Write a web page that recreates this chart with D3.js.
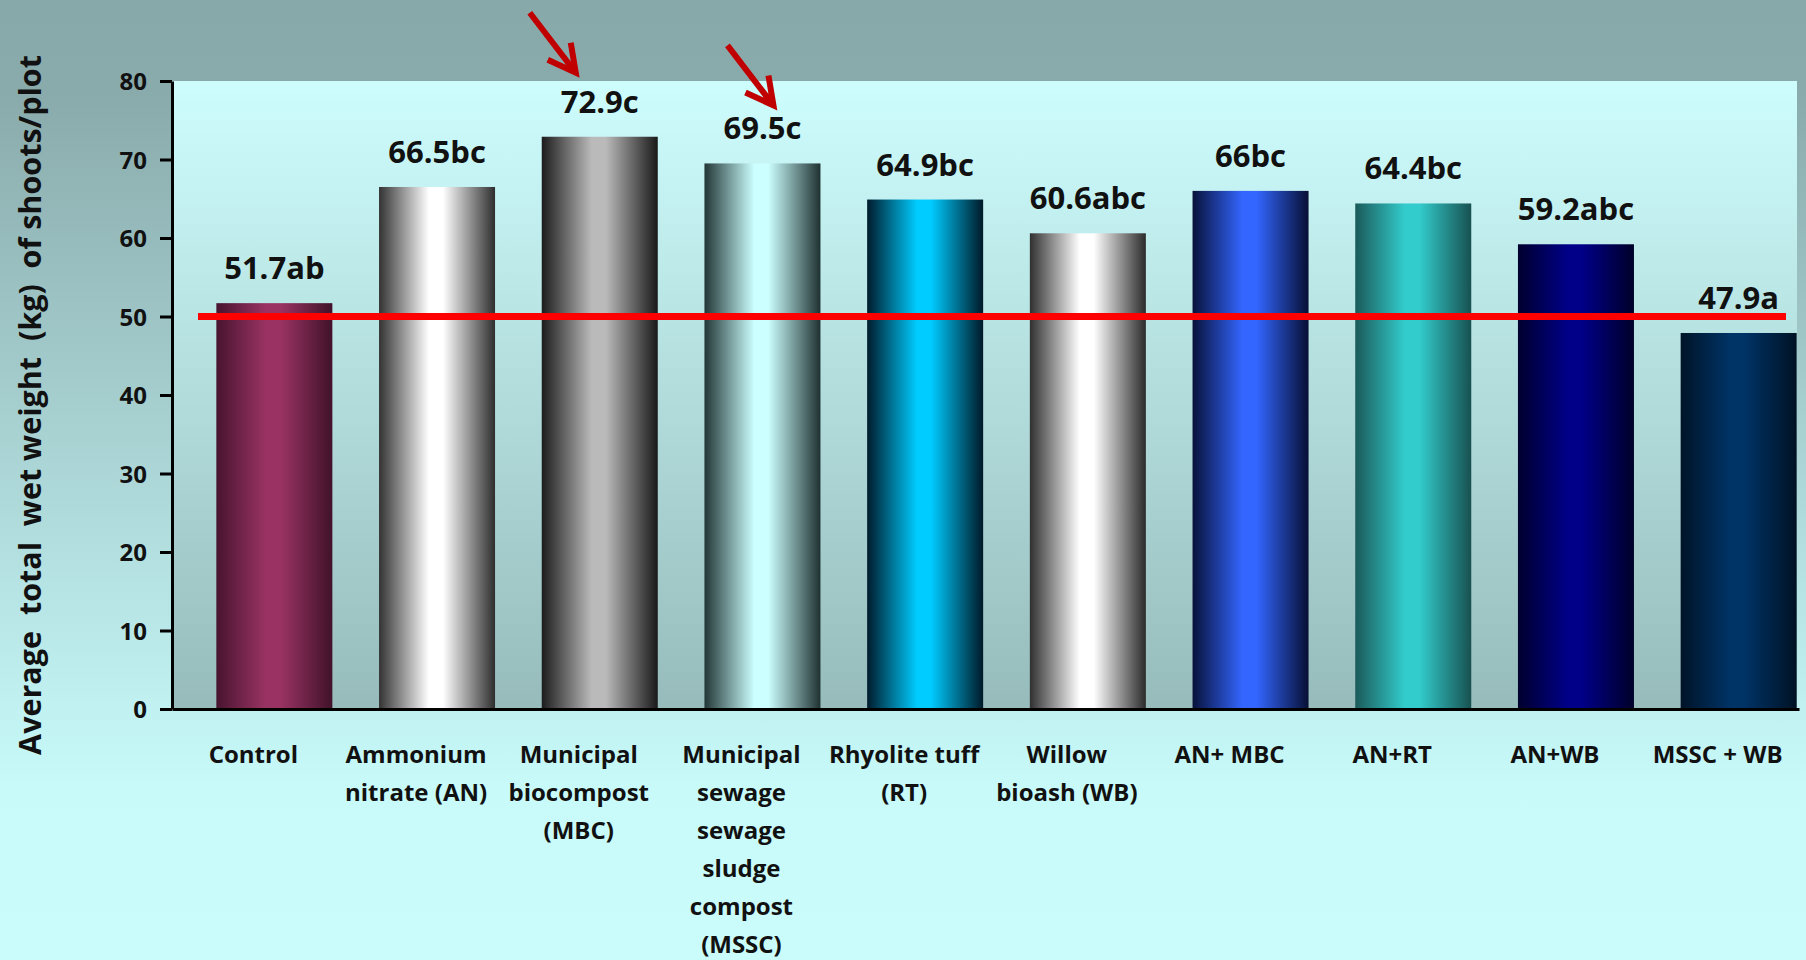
<!DOCTYPE html>
<html lang="en">
<head>
    <meta charset="UTF-8">
    <title>Average total wet weight of shoots per plot</title>
    <script src="https://d3js.org/d3.v7.min.js"></script>
    <style>
        body {
            margin: 0;
            padding: 0;
            overflow: hidden;
            font-family: 'Open Sans', sans-serif;
        }
        .axis path,
        .axis line {
            stroke: #000;
            stroke-width: 3px;
        }
        .axis text {
            font-family: 'Open Sans', sans-serif;
            font-weight: 700;
            font-size: 24px;
            fill: #111;
        }
        .cat-label {
            font-weight: 700;
            font-size: 24px;
            fill: #111;
        }
        .value-label {
            font-weight: 700;
            font-size: 31px;
            fill: #111;
        }
        .y-title {
            font-weight: 700;
            font-size: 30.5px;
            fill: #111;
            white-space: pre;
        }
    </style>
</head>
<body>
    <div id="chart"></div>
    <script>
        // treatments (line breaks as in the original axis labels)
        const categories = [
            "Control",
            "Ammonium\nnitrate (AN)",
            "Municipal\nbiocompost\n(MBC)",
            "Municipal\nsewage\nsewage\nsludge\ncompost\n(MSSC)",
            "Rhyolite tuff\n(RT)",
            "Willow\nbioash (WB)",
            "AN+ MBC",
            "AN+RT",
            "AN+WB",
            "MSSC + WB"
        ];
        const values = [51.7, 66.5, 72.9, 69.5, 64.9, 60.6, 66, 64.4, 59.2, 47.9];
        const letters = ["ab", "bc", "c", "c", "bc", "abc", "bc", "bc", "abc", "a"];
        const yTicks = [0, 10, 20, 30, 40, 50, 60, 70, 80];
        const refValue = 50;
        // bars pointed out by the red arrows
        const highlighted = ["Municipal\nbiocompost\n(MBC)", "Municipal\nsewage\nsewage\nsludge\ncompost\n(MSSC)"];

        // bar shading: edge colour -> centre colour -> edge colour
        const edgeColors = ["#48142f", "#333333", "#1c1c1c", "#223636", "#001c2c", "#303030", "#08113a", "#1b5a5a", "#00002e", "#001428"];
        const centerColors = ["#9a3363", "#ffffff", "#bababa", "#ccffff", "#00ccff", "#ffffff", "#3366ff", "#33cccc", "#000088", "#003366"];

        const data = categories.map((c, i) => ({ cat: c, value: values[i], letter: letters[i], i }));

        const W = 1806, H = 960;
        const mLeft = 172, mRight = 1799, mTop = 81, mBottom = 709;
        const barShift = 21;

        const svg = d3.select("#chart").append("svg")
            .attr("width", W)
            .attr("height", H);

        const defs = svg.append("defs");

        const bg = defs.append("linearGradient").attr("id", "bg")
            .attr("x1", 0).attr("y1", 0).attr("x2", 0).attr("y2", 1);
        bg.append("stop").attr("offset", "0").attr("stop-color", "#88a9aa");
        bg.append("stop").attr("offset", "0.1").attr("stop-color", "#8aabac");
        bg.append("stop").attr("offset", "0.82").attr("stop-color", "#c8fafa");
        bg.append("stop").attr("offset", "1").attr("stop-color", "#cafcfc");

        const plotBg = defs.append("linearGradient").attr("id", "plotBg")
            .attr("x1", 0).attr("y1", 0).attr("x2", 0).attr("y2", 1);
        plotBg.append("stop").attr("offset", "0").attr("stop-color", "#cefdfd");
        plotBg.append("stop").attr("offset", "1").attr("stop-color", "#97bbbb");

        data.forEach(d => {
            const g = defs.append("linearGradient").attr("id", "bar" + d.i)
                .attr("x1", 0).attr("y1", 0).attr("x2", 1).attr("y2", 0);
            const edge = edgeColors[d.i], mid = centerColors[d.i];
            g.append("stop").attr("offset", "0").attr("stop-color", edge);
            g.append("stop").attr("offset", "0.43").attr("stop-color", mid);
            g.append("stop").attr("offset", "0.55").attr("stop-color", mid);
            g.append("stop").attr("offset", "1").attr("stop-color", d3.color(edge).darker(0.3));
        });

        svg.append("rect")
            .attr("width", W).attr("height", H)
            .attr("fill", "url(#bg)");

        const x = d3.scaleBand()
            .domain(categories)
            .range([mLeft, mRight])
            .paddingInner(0.287)
            .paddingOuter(0.1435);

        const y = d3.scaleLinear()
            .domain([0, 80])
            .range([mBottom, mTop]);

        // plot area
        svg.append("rect")
            .attr("x", mLeft)
            .attr("y", y(80))
            .attr("width", 1797 - mLeft)
            .attr("height", y(0) - y(80))
            .attr("fill", "url(#plotBg)");

        // bars
        svg.selectAll(".bar")
            .data(data)
            .enter()
            .append("rect")
            .attr("class", "bar")
            .attr("x", d => x(d.cat) + barShift)
            .attr("y", d => y(d.value))
            .attr("width", x.bandwidth())
            .attr("height", d => y(0) - y(d.value))
            .attr("fill", d => `url(#bar${d.i})`);

        // value labels
        svg.selectAll(".value-label")
            .data(data)
            .enter()
            .append("text")
            .attr("class", "value-label")
            .attr("x", d => x(d.cat) + barShift + x.bandwidth() / 2)
            .attr("y", d => y(d.value) - 24)
            .attr("text-anchor", "middle")
            .text(d => d.value + d.letter);

        // reference line at 50
        svg.append("line")
            .attr("x1", mLeft + 26)
            .attr("x2", mRight - 13)
            .attr("y1", y(refValue))
            .attr("y2", y(refValue))
            .attr("stroke", "#ff0000")
            .attr("stroke-width", 7);

        // y axis
        const yAxis = svg.append("g")
            .attr("class", "axis")
            .attr("transform", `translate(${mLeft},0)`)
            .call(d3.axisLeft(y).tickValues(yTicks).tickSize(12).tickSizeOuter(0).tickPadding(13));
        yAxis.selectAll(".tick text").attr("dy", "0.36em");

        // x axis
        const xAxis = svg.append("g")
            .attr("class", "axis")
            .attr("transform", `translate(0,${y(0)})`)
            .call(d3.axisBottom(x).tickSize(0).tickSizeOuter(0).tickFormat(""));

        // category labels, multi-line
        const catLabels = svg.selectAll(".cat-label")
            .data(data)
            .enter()
            .append("text")
            .attr("class", "cat-label")
            .attr("text-anchor", "middle")
            .attr("y", y(0) + 54);
        catLabels.each(function(d) {
            const t = d3.select(this);
            d.cat.split("\n").forEach((line, k) => {
                t.append("tspan")
                    .attr("x", x(d.cat) + x.bandwidth() / 2)
                    .attr("dy", k === 0 ? 0 : 38)
                    .text(line);
            });
        });

        // y title
        svg.append("text")
            .attr("class", "y-title")
            .attr("transform", `translate(41,405) rotate(-90)`)
            .attr("text-anchor", "middle")
            .text("Average  total  wet weight  (kg)  of shoots/plot");

        // red arrows pointing at the two compost treatments
        const arrowOffsets = [{ dx: -24, dy: -64 }, { dx: 11, dy: -58 }];
        highlighted.forEach((cat, k) => {
            const d = data.find(e => e.cat === cat);
            const tipX = x(cat) + barShift + x.bandwidth() / 2 + arrowOffsets[k].dx;
            const tipY = y(d.value) + arrowOffsets[k].dy;
            const path = d3.path();
            path.moveTo(tipX - 46, tipY - 60);
            path.lineTo(tipX, tipY);
            path.moveTo(tipX - 28, tipY - 13);
            path.lineTo(tipX, tipY);
            path.lineTo(tipX - 5, tipY - 30);
            svg.append("path")
                .attr("d", path.toString())
                .attr("fill", "none")
                .attr("stroke", "#c00000")
                .attr("stroke-width", 6)
                .attr("stroke-linejoin", "miter")
                .attr("stroke-linecap", "butt");
        });
    </script>
</body>
</html>
